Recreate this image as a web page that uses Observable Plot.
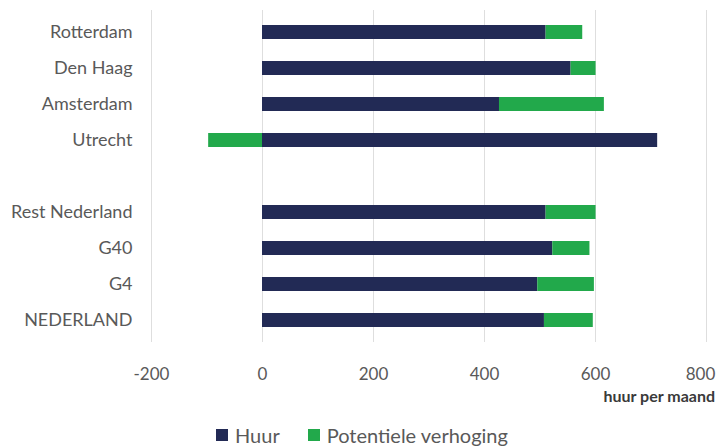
<!DOCTYPE html>
<html>
<head>
<meta charset="utf-8">
<script src="https://cdn.jsdelivr.net/npm/d3@7"></script>
<script src="https://cdn.jsdelivr.net/npm/@observablehq/plot@0.6"></script>
<style>
  html, body { margin: 0; padding: 0; background: #fff; }
  body { width: 725px; height: 447px; position: relative; overflow: hidden; font-family: Lato, "Open Sans", sans-serif; }
  #chart { position: absolute; left: 0; top: 0; }
  #unit { position: absolute; right: 10px; top: 386px; font-size: 16px; font-weight: bold; color: #3a3a3a; line-height: 20px; }
  #legend { position: absolute; left: 216px; top: 425px; display: flex; align-items: center; font-size: 20px; color: #595959; line-height: 20px; }
  #legend .sw { display: inline-block; width: 12px; height: 12px; margin-right: 7px; }
  #legend .item { display: flex; align-items: center; margin-right: 28px; }
</style>
</head>
<body>
<div id="chart"></div>
<div id="unit">huur per maand</div>
<div id="legend"></div>
<script>
const categories = ["Rotterdam", "Den Haag", "Amsterdam", "Utrecht", "_gap", "Rest Nederland", "G40", "G4", "NEDERLAND"];
const rowNames = ["Rotterdam", "Den Haag", "Amsterdam", "Utrecht", "Rest Nederland", "G40", "G4", "NEDERLAND"];
const huur = [511, 556, 427, 712, 511, 523, 496, 508];
const verhoging = [66, 45, 189, -97, 90, 67, 102, 88];
const seriesNames = ["Huur", "Potentiele verhoging"];
const seriesColors = ["#222a55", "#22a94b"];
const xTicks = [-200, 0, 200, 400, 600, 800];

const data = [];
rowNames.forEach((c, i) => {
  data.push({cat: c, series: seriesNames[0], value: huur[i]});
  data.push({cat: c, series: seriesNames[1], value: verhoging[i]});
});

const plot = Plot.plot({
  width: 725,
  height: 415,
  marginLeft: 151,
  marginRight: 19,
  marginTop: 10,
  marginBottom: 73,
  style: {fontFamily: "Lato, 'Open Sans', sans-serif", color: "#595959", background: "#fff"},
  x: {domain: [-200, 800], ticks: xTicks, label: null},
  y: {domain: categories, paddingInner: 0.62, paddingOuter: 0.31, label: null},
  color: {domain: seriesNames, range: seriesColors},
  marks: [
    Plot.gridX(xTicks, {stroke: "#dedede", strokeOpacity: 1, strokeWidth: 1}),
    Plot.barX(data, Plot.stackX({y: "cat", x: "value", fill: "series", order: seriesNames})),
    Plot.axisX(xTicks.slice(0, -1), {tickSize: 0, tickPadding: 25, fontSize: 17, tickFormat: d => String(d), label: null}),
    Plot.axisX(xTicks.slice(-1), {tickSize: 0, tickPadding: 25, fontSize: 17, dx: -6, tickFormat: d => String(d), label: null}),
    Plot.axisY({tickSize: 0, tickPadding: 19, fontSize: 18, tickFormat: d => d === "_gap" ? "" : d, label: null})
  ]
});
document.getElementById("chart").appendChild(plot);

const legend = document.getElementById("legend");
seriesNames.forEach((s, i) => {
  const item = document.createElement("span");
  item.className = "item";
  const sw = document.createElement("span");
  sw.className = "sw";
  sw.style.background = seriesColors[i];
  item.appendChild(sw);
  item.appendChild(document.createTextNode(s));
  legend.appendChild(item);
});
</script>
</body>
</html>
